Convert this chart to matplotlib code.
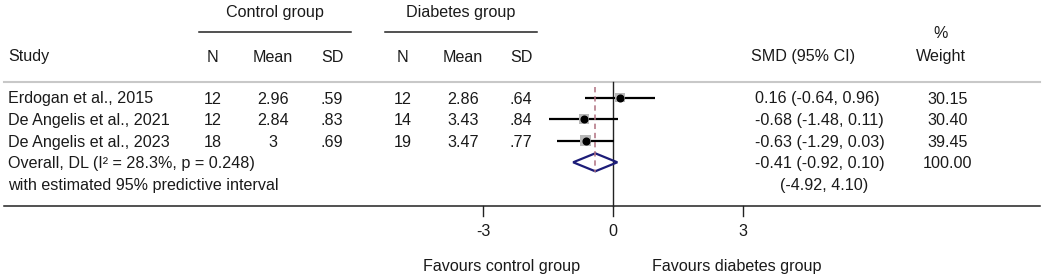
import numpy as np
import matplotlib
matplotlib.use("Agg")
import matplotlib.pyplot as plt

plt.rcParams['font.family'] = ['Liberation Sans', 'DejaVu Sans']

# data
studies = ["Erdogan et al., 2015", "De Angelis et al., 2021", "De Angelis et al., 2023"]
ctrl_n = ["12", "12", "18"]
ctrl_mean = ["2.96", "2.84", "3"]
ctrl_sd = [".59", ".83", ".69"]
diab_n = ["12", "14", "19"]
diab_mean = ["2.86", "3.43", "3.47"]
diab_sd = [".64", ".84", ".77"]
smd = [0.16, -0.68, -0.63]
ci_lo = [-0.64, -1.48, -1.29]
ci_hi = [0.96, 0.11, 0.03]
weights = [30.15, 30.40, 39.45]
overall_smd, overall_lo, overall_hi = -0.41, -0.92, 0.10
pi_lo, pi_hi = -4.92, 4.10
overall_label = "Overall, DL (I\u00b2 = 28.3%, p = 0.248)"
pi_label = "with estimated 95% predictive interval"
xticks = [-3, 0, 3]

W, H = 1053, 279
x0, scale = 613, 43.3   # pixel of SMD 0, pixels per unit
fs = 11.6
tc = '#1a1a1a'

fig = plt.figure(figsize=(W / 100, H / 100), dpi=100)
tx = fig.add_axes([0, 0, 1, 1])
tx.set_xlim(0, W)
tx.set_ylim(H, 0)
tx.axis('off')
ax = fig.add_axes([0, 0, 1, 1])
ax.set_xlim(-x0 / scale, (W - x0) / scale)
ax.set_ylim(H, 0)
ax.axis('off')
ax.patch.set_visible(False)

rows = 97.5 + 21.6 * np.arange(5)
trows = rows + 1.5

# headers
tx.text(275, 13, "Control group", ha='center', va='center', fontsize=fs, color=tc)
tx.text(461, 13, "Diabetes group", ha='center', va='center', fontsize=fs, color=tc)
tx.plot([199, 351], [32, 32], color='#222222', lw=1.1)
tx.plot([385, 537], [32, 32], color='#222222', lw=1.1)
cols = [213, 273, 332, 403, 463, 521]
for c, h in zip(cols, ["N", "Mean", "SD", "N", "Mean", "SD"]):
    tx.text(c, 57, h, ha='center', va='center', fontsize=fs, color=tc)
tx.text(8, 57, "Study", ha='left', va='center', fontsize=fs, color=tc)
tx.text(751, 57, "SMD (95% CI)", ha='left', va='center', fontsize=fs, color=tc)
tx.text(941, 34, "%", ha='center', va='center', fontsize=fs, color=tc)
tx.text(941, 57, "Weight", ha='center', va='center', fontsize=fs, color=tc)
tx.plot([4, 1040], [82, 82], color='#c8c8c8', lw=1.5)

# study rows
for i, s in enumerate(studies):
    y = trows[i]
    tx.text(8, y, s, ha='left', va='center', fontsize=fs, color=tc)
    vals = [ctrl_n[i], ctrl_mean[i], ctrl_sd[i], diab_n[i], diab_mean[i], diab_sd[i]]
    for c, v in zip(cols, vals):
        tx.text(c, y, v, ha='center', va='center', fontsize=fs, color=tc)
    tx.text(755, y, "%.2f (%.2f, %.2f)" % (smd[i], ci_lo[i], ci_hi[i]),
            ha='left', va='center', fontsize=fs, color=tc)
    tx.text(948, y, "%.2f" % weights[i], ha='center', va='center', fontsize=fs, color=tc)

tx.text(8, trows[3], overall_label, ha='left', va='center', fontsize=fs, color=tc)
tx.text(755, trows[3], "%.2f (%.2f, %.2f)" % (overall_smd, overall_lo, overall_hi),
        ha='left', va='center', fontsize=fs, color=tc)
tx.text(948, trows[3], "%.2f" % sum(weights), ha='center', va='center', fontsize=fs, color=tc)
tx.text(8, trows[4], pi_label, ha='left', va='center', fontsize=fs, color=tc)
tx.text(824, trows[4], "(%.2f, %.2f)" % (pi_lo, pi_hi), ha='center', va='center', fontsize=fs, color=tc)

# bottom axis
tx.plot([4, 1040], [206, 206], color='#222222', lw=1.1)
ax.plot([0, 0], [82, 206], color='#222222', lw=1.0)
for t in xticks:
    ax.plot([t, t], [206, 216], color='#222222', lw=1.0)
    ax.text(t, 232, str(t), ha='center', va='center', fontsize=fs, color=tc)
tx.text(580, 267, "Favours control group", ha='right', va='center', fontsize=fs, color=tc)
tx.text(652, 267, "Favours diabetes group", ha='left', va='center', fontsize=fs, color=tc)

# forest marks
ax.plot([overall_smd, overall_smd], [87, 172], color='#b07080', lw=1.1, ls=(0, (3.5, 2.5)), zorder=4)
ax.hlines(rows[:3], ci_lo, ci_hi, color='black', lw=1.6, zorder=2)
ax.scatter(smd, rows[:3], marker='s', s=[w * 1.7 for w in weights], color='#b8b8b8', zorder=3, linewidths=0)
ax.plot(smd, rows[:3], 'o', ms=4.8, color='black', zorder=5)
r = rows[3]
ax.fill([overall_lo, overall_smd, overall_hi, overall_smd, overall_lo], [r, r - 9, r, r + 9, r],
        facecolor='none', edgecolor='#1c1c78', lw=1.6, zorder=3)

fig.savefig("out.png", dpi=100)
